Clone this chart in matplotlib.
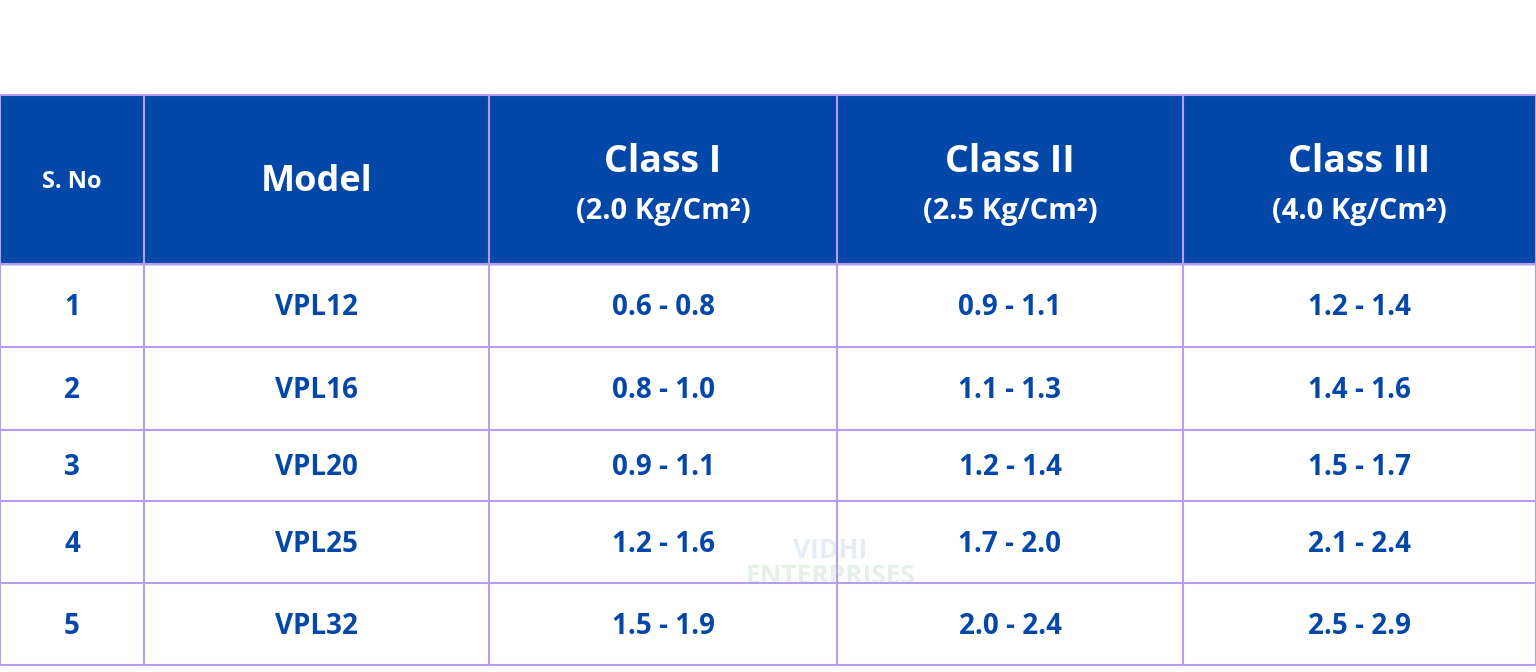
import matplotlib
matplotlib.use("Agg")
import matplotlib.pyplot as plt
from matplotlib.patches import Rectangle

sno = ["1", "2", "3", "4", "5"]
models = ["VPL12", "VPL16", "VPL20", "VPL25", "VPL32"]
class1 = ["0.6 - 0.8", "0.8 - 1.0", "0.9 - 1.1", "1.2 - 1.6", "1.5 - 1.9"]
class2 = ["0.9 - 1.1", "1.1 - 1.3", "1.2 - 1.4", "1.7 - 2.0", "2.0 - 2.4"]
class3 = ["1.2 - 1.4", "1.4 - 1.6", "1.5 - 1.7", "2.1 - 2.4", "2.5 - 2.9"]
head_titles = ["S. No", "Model", "Class I", "Class II", "Class III"]
head_subs = ["", "", "(2.0 Kg/Cm²)", "(2.5 Kg/Cm²)", "(4.0 Kg/Cm²)"]

BLUE = "#0347A8"
BORDER = "#B79CF0"
FONT = ["Open Sans", "DejaVu Sans"]

fig = plt.figure(figsize=(15.36, 6.72), dpi=100)
ax = fig.add_axes([0, 0, 1, 1])
ax.set_xlim(0, 1536)
ax.set_ylim(672, 0)
ax.axis("off")

xs = [0, 144, 489, 837, 1183, 1536]
ys = [95, 264, 347, 430, 501, 583, 665]

ax.add_patch(Rectangle((0, ys[0]), 1536, ys[1] - ys[0], color=BLUE, zorder=1))

# watermark
ax.text(830, 550, "VIDHI", ha="center", va="center", fontsize=19, color="#E6ECF4",
        fontweight="bold", family=FONT, zorder=0)
ax.text(830, 577, "ENTERPRISES", ha="center", va="center", fontsize=19, color="#E6F0E6",
        fontweight="bold", family=FONT, zorder=0)

for x in xs:
    ax.plot([x, x], [ys[0], ys[-1]], color=BORDER, lw=1.5, zorder=2)
for y in ys:
    ax.plot([0, 1536], [y, y], color=BORDER, lw=1.5, zorder=2)

for i, (t, s) in enumerate(zip(head_titles, head_subs)):
    cx = (xs[i] + xs[i + 1]) / 2
    if s:
        ax.text(cx, 162, t, ha="center", va="center", color="white", fontsize=27,
                fontweight="bold", family=FONT, zorder=3)
        ax.text(cx, 211, s, ha="center", va="center", color="white", fontsize=21,
                fontweight="bold", family=FONT, zorder=3)
    else:
        ax.text(cx, 182, t, ha="center", va="center", color="white",
                fontsize=17 if i == 0 else 26, fontweight="bold", family=FONT, zorder=3)

cols = [sno, models, class1, class2, class3]
for r in range(5):
    cy = (ys[r + 1] + ys[r + 2]) / 2 + 2
    for c, col in enumerate(cols):
        cx = (xs[c] + xs[c + 1]) / 2
        ax.text(cx, cy, col[r], ha="center", va="center", color=BLUE, fontsize=20,
                fontweight="bold", family=FONT, zorder=3)

fig.savefig("out.png", dpi=100)
